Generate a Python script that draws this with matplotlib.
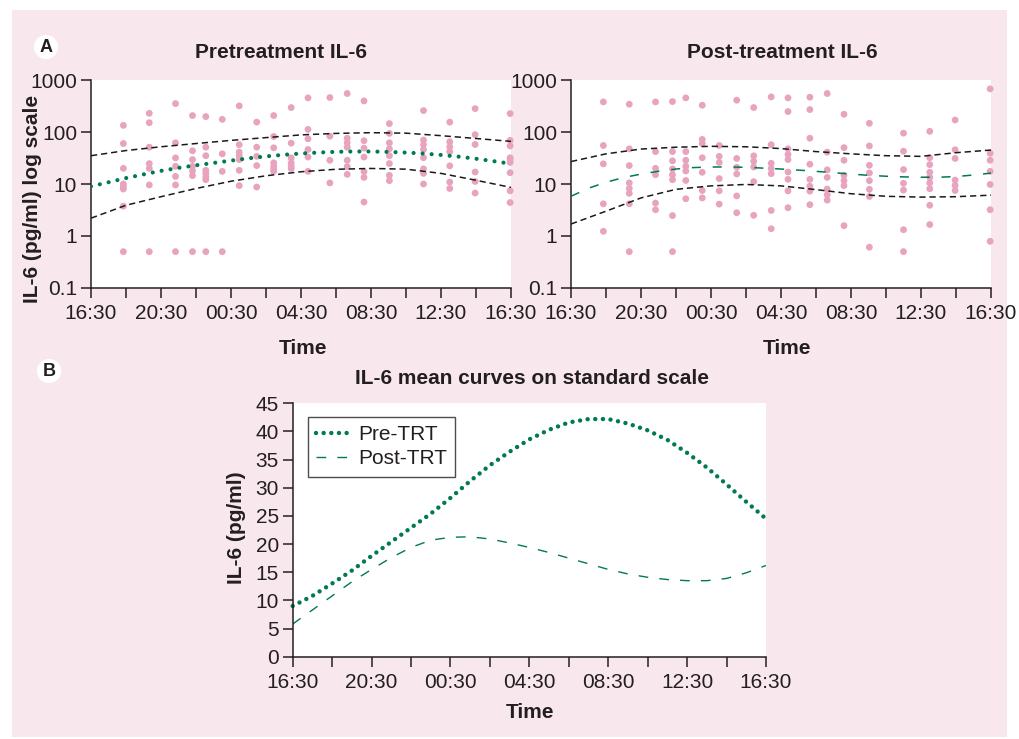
import numpy as np
import matplotlib.pyplot as plt
from matplotlib.patches import Rectangle

plt.rcParams['font.family'] = ['Liberation Sans', 'DejaVu Sans']
plt.rcParams['lines.scale_dashes'] = False

# sampling times, hours after 16:30
sample_hours = [1.85, 3.33, 4.83, 5.8, 6.56, 7.5, 8.47, 9.47, 10.44, 11.44,
                12.4, 13.65, 14.64, 15.6, 17.05, 19.0, 20.5, 21.95, 23.95]

# individual IL-6 values (pg/ml) at each sampling time
pre_il6 = [
    [134, 60, 20, 10, 9, 8, 3.75, 0.5],
    [229, 151, 51, 24.7, 20, 9.6, 0.5],
    [352, 62, 31.8, 21.9, 14, 9.6, 0.5],
    [207, 43.5, 29.5, 21.9, 17.8, 14.5, 0.5],
    [198, 51, 35, 18.3, 15.8, 13.6, 12.1, 0.5],
    [175, 38, 17.5, 0.5],
    [318, 57, 41, 35, 29.5, 18.3, 9.3],
    [155, 51, 34, 22.6, 8.75],
    [207, 82, 49.7, 25.5, 21.9, 19.5, 17.5],
    [295, 61, 31.8, 25.5, 21.9, 19.8],
    [453, 112, 74, 46, 33, 17.5],
    [460, 83, 28.6, 10.5],
    [550, 76, 62, 51, 28.6, 21.6, 15.3],
    [396, 68, 49, 33, 17.3, 13.4, 4.5],
    [145, 94, 62, 47.5, 35, 24.7, 14.7, 11.6],
    [258, 70, 57, 46, 32, 19.5, 16, 10],
    [155, 65, 52, 42, 22.3, 10.9, 8.2],
    [282, 89, 57.5, 17, 11.2, 6.7],
    [226, 69, 54, 32, 29, 26, 16.5, 7.4, 4.4],
]
post_il6 = [
    [379, 55, 24.4, 4.16, 1.23],
    [342, 47.5, 22.6, 10.5, 8.2, 6.6, 4.16, 0.5],
    [379, 42, 20, 15.1, 4.3, 3.2],
    [385, 42, 27.9, 19.5, 15.1, 12.1, 2.47, 0.5],
    [453, 42, 28.6, 21.9, 17.8, 11.7, 5.2],
    [327, 72, 60, 32, 16.8, 7.5, 5.4],
    [55, 34, 26, 12.7, 7.4, 4.1],
    [408, 31, 21, 15.6, 5.9, 2.8],
    [295, 34.8, 27.4, 21.3, 11.1, 2.5],
    [473, 57, 25, 19.8, 15.8, 3.1, 1.38],
    [453, 247, 47.5, 37, 29.5, 17, 12.3, 7.4, 3.5],
    [467, 270, 76, 24, 12.3, 9.1, 7.3, 4.0],
    [550, 41, 18.7, 13.4, 8.0, 6.2, 4.9],
    [219, 50, 28.6, 14.7, 11.6, 9.3, 1.58],
    [147, 54, 22.9, 16.3, 11.6, 7.9, 5.75, 0.61],
    [95, 42.7, 18.9, 10.3, 7.65, 1.32, 0.5],
    [103, 32, 23.6, 16.8, 13.4, 10.5, 8.1, 3.9, 1.66],
    [170, 45.5, 31, 11.9, 9.4, 7.5],
    [675, 39, 28.6, 17.5, 9.8, 3.2, 0.79],
]

# fitted mean curves (pg/ml), hourly
curve_hours = list(range(25))
pre_mean = [9.0, 10.8, 13.0, 15.3, 17.9, 20.4, 22.9, 25.4, 28.2, 31.2, 34.0, 36.4, 38.6,
            40.3, 41.6, 42.2, 42.2, 41.4, 40.2, 38.5, 36.2, 33.6, 30.6, 27.5, 24.5]
post_mean = [5.8, 8.3, 10.8, 13.3, 15.5, 17.6, 19.4, 20.7, 21.2, 21.3, 20.9, 20.2, 19.4,
             18.5, 17.5, 16.5, 15.5, 14.7, 14.1, 13.7, 13.5, 13.5, 13.9, 14.9, 16.2]

# confidence bands, every 2 hours
band_hours = list(range(0, 25, 2))
pre_upper = [35, 44, 52, 60, 69, 78, 88, 94, 97, 95, 85, 75, 66]
pre_lower = [2.2, 3.9, 5.7, 8.2, 11.3, 14.4, 17.2, 19.2, 19.9, 19.3, 16.0, 11.8, 8.6]
post_upper = [27, 38, 47, 51, 53, 52, 48, 42, 38, 35, 34, 40, 45]
post_lower = [1.7, 3.0, 5.4, 7.9, 9.2, 9.8, 9.2, 7.8, 6.5, 5.8, 5.6, 5.7, 6.1]

tick_hours = list(range(0, 25, 2))
tick_labels = ['16:30', '', '20:30', '', '00:30', '', '04:30', '', '08:30', '', '12:30', '', '16:30']
log_ticks = [0.1, 1, 10, 100, 1000]
log_labels = ['0.1', '1', '10', '100', '1000']
lin_ticks = list(range(0, 50, 5))

pink_bg = '#F9E7EE'
dot_pink = '#E8A3BF'
green = '#007A50'
dark = '#231F20'

W, H = 1019, 739
fig = plt.figure(figsize=(W / 100, H / 100), dpi=100)
fig.patch.set_facecolor('white')
fig.add_artist(Rectangle((12 / W, 2 / H), 995 / W, 727 / H, transform=fig.transFigure,
                         facecolor=pink_bg, edgecolor='none', zorder=-10))


def px_axes(x0, y0, x1, y1):
    return fig.add_axes([x0 / W, 1 - y1 / H, (x1 - x0) / W, (y1 - y0) / H])


def style(ax):
    ax.set_facecolor('white')
    for s in ['top', 'right']:
        ax.spines[s].set_visible(False)
    for s in ['left', 'bottom']:
        ax.spines[s].set_color(dark)
        ax.spines[s].set_linewidth(1.1)
    ax.tick_params(length=7, width=1.1, color=dark, labelsize=15, labelcolor=dark, pad=3)
    ax.tick_params(axis='x', pad=4.5)
    ax.set_xlim(0, 24)
    ax.set_xticks(tick_hours)
    ax.set_xticklabels(tick_labels)


def ftext(x, y, s, **kw):
    fig.text(x / W, 1 - y / H, s, ha='center', va='center', color=dark, **kw)


ax1 = px_axes(91, 80, 511, 288)
ax2 = px_axes(571, 80, 991, 288)

for ax, data, mean, up, lo, mstyle in [
        (ax1, pre_il6, pre_mean, pre_upper, pre_lower, 'dot'),
        (ax2, post_il6, post_mean, post_upper, post_lower, 'dash')]:
    style(ax)
    xs = [t for t, vals in zip(sample_hours, data) for _ in vals]
    ys = [v for vals in data for v in vals]
    ax.scatter(xs, ys, s=24, color=dot_pink, edgecolors='none', zorder=2, clip_on=False)
    ax.plot(band_hours, up, color='#1a1a1a', lw=1.1, ls=(0, (4.5, 2.8)), zorder=3)
    ax.plot(band_hours, lo, color='#1a1a1a', lw=1.1, ls=(0, (4.5, 2.8)), zorder=3)
    if mstyle == 'dot':
        ax.plot(curve_hours, mean, color=green, lw=3.0, ls=(0, (0.01, 6.5)),
                dash_capstyle='round', zorder=4)
    else:
        ax.plot(curve_hours, mean, color=green, lw=1.1, ls=(0, (6.5, 8.5)), zorder=4)
    ax.set_yscale('log')
    ax.set_ylim(0.1, 1000)
    ax.set_yticks(log_ticks)
    ax.set_yticklabels(log_labels)
    ax.minorticks_off()

ftext(281, 52, 'Pretreatment IL-6', fontsize=15, fontweight='bold')
ftext(782, 52, 'Post-treatment IL-6', fontsize=15, fontweight='bold')
ftext(33, 199, 'IL-6 (pg/ml) log scale', fontsize=15, fontweight='bold', rotation=90)
ftext(303, 348, 'Time', fontsize=15, fontweight='bold')
ftext(787, 348, 'Time', fontsize=15, fontweight='bold')

# panel B
ax3 = px_axes(292.7, 403.3, 766, 656.7)
style(ax3)
ax3.plot(curve_hours, pre_mean, color=green, lw=3.2, ls=(0, (0.01, 5.5)),
         dash_capstyle='round', label='Pre-TRT', clip_on=False)
ax3.plot(curve_hours, post_mean, color=green, lw=1.0, ls=(0, (7, 8)), label='Post-TRT')
ax3.set_ylim(0, 45)
ax3.set_yticks(lin_ticks)
leg = ax3.legend(loc='upper left', bbox_to_anchor=(0.032, 0.947), borderaxespad=0,
                 fontsize=15, frameon=True, fancybox=False, handlelength=1.5,
                 handletextpad=0.5, borderpad=0.4, labelspacing=0.25)
leg.get_frame().set_edgecolor(dark)
leg.get_frame().set_linewidth(1.0)
for t in leg.get_texts():
    t.set_color(dark)

ftext(532, 379, 'IL-6 mean curves on standard scale', fontsize=15, fontweight='bold')
ftext(236, 528, 'IL-6 (pg/ml)', fontsize=15, fontweight='bold', rotation=90)
ftext(530, 712, 'Time', fontsize=15, fontweight='bold')

# panel letters
for lx, ly, s in [(46, 47, 'A'), (49, 371, 'B')]:
    ftext(lx, ly, s, fontsize=13, fontweight='bold',
          bbox=dict(boxstyle='circle,pad=0.2', fc='white', ec='none'))

fig.savefig('out.png', dpi=100, facecolor=fig.get_facecolor())
